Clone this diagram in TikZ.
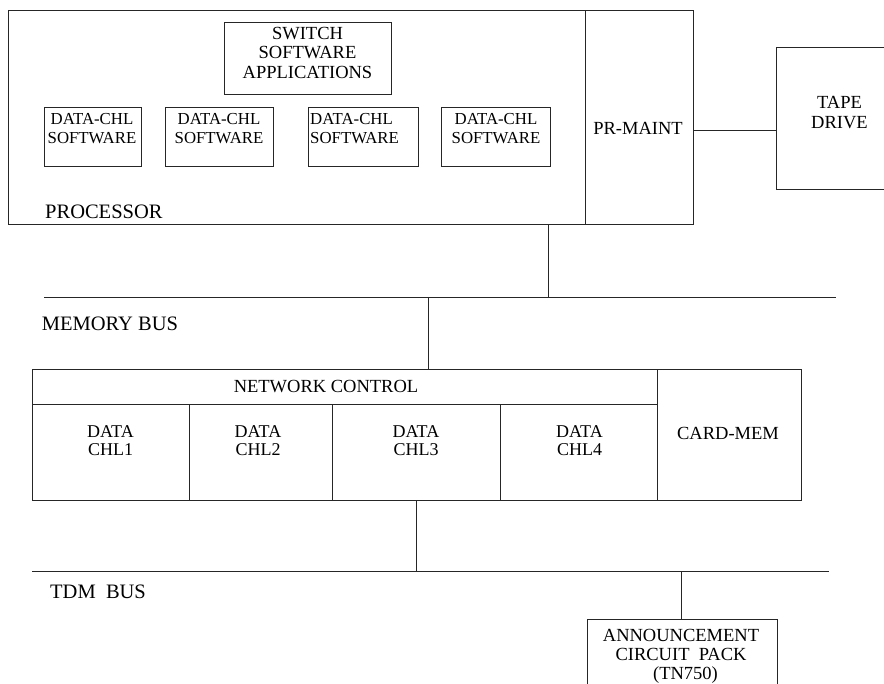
\documentclass[tikz,border=0pt]{standalone}
\usepackage{fontspec}
\setmainfont{Liberation Serif}
\begin{document}
\begin{tikzpicture}[x=1pt,y=-1pt,
  box/.style={draw=black!85, line width=0.8pt, inner sep=0pt, rectangle},
  lbl/.style={inner sep=0pt, align=center, font=\fontsize{18.5}{19.5}\selectfont},
  bus/.style={draw=black!85, line width=0.9pt},
  wire/.style={draw=black!85, line width=0.8pt},
  buslbl/.style={inner sep=0pt, anchor=west, font=\fontsize{20.5}{22}\selectfont},
  swbox/.style={box, minimum height=59pt},
  swlbl/.style={inner sep=0pt, align=center, font=\fontsize{16.8}{19}\selectfont},
  cell/.style={box, minimum height=96pt},
  celllbl/.style={inner sep=0pt, align=center, font=\fontsize{18}{18}\selectfont}]

\useasboundingbox (0,0) rectangle (884,684);
\clip (0,0) rectangle (884,684);

% processor block
\node[box, minimum width=577pt, minimum height=214pt] (proc) at (296.5,117) {};
\node[box, minimum width=108pt, minimum height=214pt] (prm) at (639,117) {};
\node[lbl] (prmt) at (638,128) {PR-MAINT};
\node[box, minimum width=128pt, minimum height=142pt] (tape) at (840,118) {};
\node[lbl, font=\fontsize{18.5}{20}\selectfont] (tapet) at (839.5,113) {TAPE\\DRIVE};
\node[box, minimum width=167pt, minimum height=72pt] (sw) at (307.5,58) {};
\node[lbl] (swt) at (307.5,52.5) {SWITCH\\SOFTWARE\\APPLICATIONS};

\node[swbox, minimum width=97pt] (d1) at (92.5,136.5) {};
\node[swbox, minimum width=108pt] (d2) at (219,136.5) {};
\node[swbox, minimum width=110pt] (d3) at (363,136.5) {};
\node[swbox, minimum width=109pt] (d4) at (495.5,136.5) {};
\node[swlbl] (d1t) at (92,128.5) {DATA-CHL\\SOFTWARE};
\node[swlbl] (d2t) at (219,128.5) {DATA-CHL\\SOFTWARE};
\node[swlbl, align=left, anchor=west] (d3t) at (310,128.5) {DATA-CHL\\SOFTWARE};
\node[swlbl] (d4t) at (496,128.5) {DATA-CHL\\SOFTWARE};
\node[buslbl] (proct) at (45,212) {PROCESSOR};

\coordinate (tp) at ([yshift=-13pt]prm.east);
\draw[wire] (tp) -- (tp -| tape.west);

% memory bus
\coordinate (mbL) at (44,297);
\coordinate (mbR) at (836,297);
\coordinate (mbP) at (548,297);
\coordinate (mbN) at (428,297);
\draw[bus] (mbL) -- (mbR);
\draw[wire] (proc.south -| mbP) -- (mbP);
\node[buslbl] (mbt) at (41.7,324) {MEMORY BUS};

% network control
\node[box, minimum width=625pt, minimum height=131pt] (nc) at (344.5,434.5) {};
\node[box, minimum width=625pt, minimum height=35pt] (nch) at (344.5,386.5) {};
\node[lbl] (ncht) at (326,387) {NETWORK CONTROL};
\node[cell, minimum width=157pt] (c1) at (110.5,452) {};
\node[cell, minimum width=143pt] (c2) at (260.5,452) {};
\node[cell, minimum width=168pt] (c3) at (416,452) {};
\node[cell, minimum width=157pt] (c4) at (578.5,452) {};
\node[celllbl] (c1t) at (110.5,441) {DATA\\CHL1};
\node[celllbl] (c2t) at (258,441) {DATA\\CHL2};
\node[celllbl] (c3t) at (416,441) {DATA\\CHL3};
\node[celllbl] (c4t) at (579.5,441) {DATA\\CHL4};
\node[box, minimum width=144pt, minimum height=131pt] (cm) at (729,434.5) {};
\node[lbl] (cmt) at (728,433) {CARD-MEM};
\draw[wire] (mbN) -- (nc.north -| mbN);

% TDM bus
\coordinate (tL) at (32,571);
\coordinate (tR) at (829,571);
\coordinate (tN) at (416.5,571);
\coordinate (tA) at (681,571);
\draw[bus] (tL) -- (tR);
\draw[wire] (nc.south -| tN) -- (tN);
\node[buslbl] (tdmt) at (50,592) {TDM\ \ BUS};

% announcement
\node[box, minimum width=190pt, minimum height=100pt] (ann) at (682,669) {};
\node[lbl, font=\fontsize{18.5}{19}\selectfont] (annt) at (681,656) {ANNOUNCEMENT\\CIRCUIT\ \ PACK\\\hspace*{9pt}(TN750)};
\draw[wire] (tA) -- (ann.north -| tA);
\end{tikzpicture}
\end{document}
